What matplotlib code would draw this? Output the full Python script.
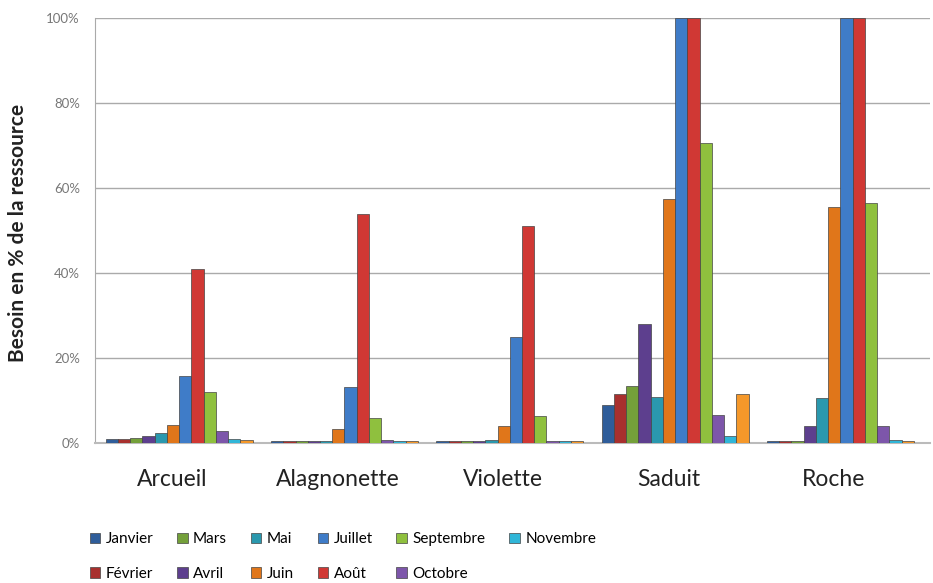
import numpy as np
import matplotlib.pyplot as plt

plt.rcParams['font.family'] = ['Lato', 'DejaVu Sans']

# stations (groups) and months (series)
stations = ['Arcueil', 'Alagnonette', 'Violette', 'Saduit', 'Roche']
mois = ['Janvier', 'Février', 'Mars', 'Avril', 'Mai', 'Juin',
        'Juillet', 'Août', 'Septembre', 'Octobre', 'Novembre', 'Décembre']

# besoin en % de la ressource, one list per month (Arcueil..Roche)
janvier   = [1.0, 0.4, 0.5, 9.0, 0.5]
fevrier   = [1.0, 0.4, 0.5, 11.5, 0.5]
mars      = [1.2, 0.4, 0.5, 13.5, 0.5]
avril     = [1.7, 0.4, 0.5, 28.0, 4.0]
mai       = [2.3, 0.6, 0.8, 10.8, 10.5]
juin      = [4.2, 3.3, 4.0, 57.5, 55.5]
juillet   = [15.8, 13.2, 25.0, 100.0, 100.0]
aout      = [41.0, 53.8, 51.0, 100.0, 100.0]
septembre = [12.0, 6.0, 6.4, 70.5, 56.5]
octobre   = [2.8, 0.8, 0.5, 6.6, 4.0]
novembre  = [1.0, 0.5, 0.4, 1.6, 0.8]
decembre  = [0.8, 0.4, 0.4, 11.5, 0.6]

valeurs = [janvier, fevrier, mars, avril, mai, juin,
           juillet, aout, septembre, octobre, novembre, decembre]

couleurs = ['#2f5d9a', '#a8302e', '#74a03a', '#5d3f8e', '#2a98ae', '#e0761a',
            '#3f7cc8', '#d03834', '#8fc03e', '#7d56aa', '#30b6d8', '#f5982a']

fig = plt.figure(figsize=(9.33, 5.83), dpi=100)
ax = fig.add_axes([0.102, 0.240, 0.895, 0.729])

x = np.arange(len(stations))
w = 0.074  # width of one bar
n = len(mois)

barres = []
for i in range(n):
    pos = x + (i - (n - 1) / 2) * w
    b = ax.bar(pos, np.array(valeurs[i]) / 100, width=w, color=couleurs[i],
               edgecolor='#444444', linewidth=0.5, label=mois[i], zorder=3)
    barres.append(b)

ax.set_xlim(-0.508, 4.543)
ax.set_ylim(0, 1.0)

# gridlines like the back wall of the excel chart
ax.set_yticks(np.arange(0, 1.01, 0.2))
ax.set_yticklabels(['0%', '20%', '40%', '60%', '80%', '100%'],
                   fontsize=9.5, color='#777777')
ax.yaxis.grid(True, color='#aaaaaa', linewidth=1.0, zorder=0)
ax.tick_params(axis='y', length=0, pad=11)

# labels sit a bit left of the bars (3d perspective in the original)
ax.set_xticks(x - 0.04)
ax.set_xticklabels(stations, fontsize=16.5, color='#222222')
ax.tick_params(axis='x', length=0, pad=19)

for s in ['top', 'right']:
    ax.spines[s].set_visible(False)
ax.spines['left'].set_color('#aaaaaa')
ax.spines['bottom'].set_color('#bbbbbb')
ax.spines['bottom'].set_linewidth(1.5)

fig.text(0.019, 0.60, 'Besoin en % de la ressource', rotation=90,
         fontsize=15, fontweight='bold', color='#222222',
         ha='center', va='center')

# legend: Décembre is not shown in the original legend
fig.legend(handles=barres[:11], labels=mois[:11], ncol=6,
           loc='upper left', bbox_to_anchor=(0.096, 0.087),
           frameon=False, fontsize=11, handlelength=0.7, handleheight=0.7,
           handletextpad=0.35, columnspacing=1.55, labelspacing=1.35,
           borderpad=0.0, borderaxespad=0.0)

plt.savefig('out.png', dpi=100)
